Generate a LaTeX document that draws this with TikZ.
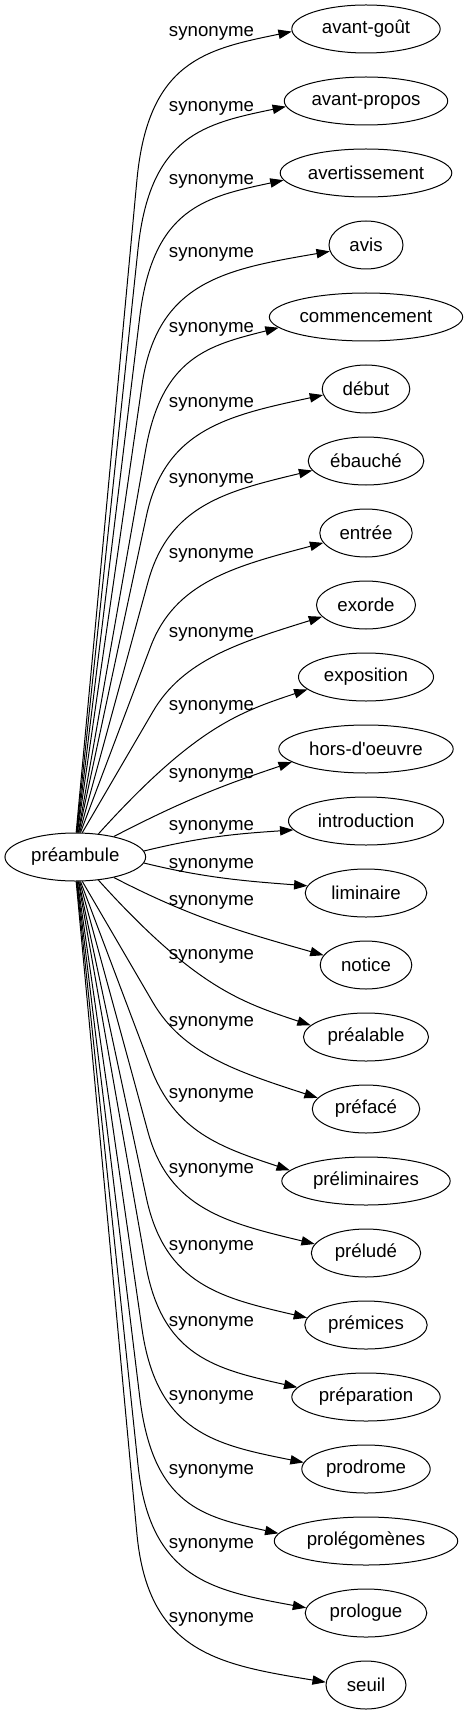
\documentclass[tikz,border=0pt]{standalone}
\usepackage{fontspec}
\setmainfont{Liberation Sans}
\usetikzlibrary{arrows.meta,calc,shapes.geometric}
\begin{document}
\begin{tikzpicture}[x=0.75pt,y=-0.75pt,
  nd/.style={draw, ellipse, line width=0.75pt, minimum height=36pt, inner sep=0pt, font=\fontsize{14}{16}\selectfont},
  lbl/.style={font=\fontsize{14}{16}\selectfont, anchor=base, inner sep=0pt},
  conn/.style={draw, line width=0.75pt, -{Triangle[length=10pt,width=7pt]}}]
\useasboundingbox (0,0) rectangle (468,1715);
% nodes
\node[nd, minimum width=105.5pt] (p) at (75.3,857) {préambule};
\node[nd, minimum width=111.3pt] (n1) at (366,29) {avant-goût};
\node[nd, minimum width=122.6pt] (n2) at (366,101) {avant-propos};
\node[nd, minimum width=128.7pt] (n3) at (366,173) {avertissement};
\node[nd, minimum width=55.5pt] (n4) at (366,245) {avis};
\node[nd, minimum width=145pt] (n5) at (366,317) {commencement};
\node[nd, minimum width=65.7pt] (n6) at (366,389) {début};
\node[nd, minimum width=86.7pt] (n7) at (366,461) {ébauché};
\node[nd, minimum width=69.3pt] (n8) at (366,533) {entrée};
\node[nd, minimum width=74.3pt] (n9) at (366,605) {exorde};
\node[nd, minimum width=101.3pt] (n10) at (366,677) {exposition};
\node[nd, minimum width=130.8pt] (n11) at (366,749) {hors-d\textquotesingle oeuvre};
\node[nd, minimum width=116.3pt] (n12) at (366,821) {introduction};
\node[nd, minimum width=91.2pt] (n13) at (366,893) {liminaire};
\node[nd, minimum width=68.7pt] (n14) at (366,965) {notice};
\node[nd, minimum width=93.8pt] (n15) at (366,1037) {préalable};
\node[nd, minimum width=80.6pt] (n16) at (366,1109) {préfacé};
\node[nd, minimum width=126.3pt] (n17) at (366,1181) {préliminaires};
\node[nd, minimum width=82pt] (n18) at (366,1253) {préludé};
\node[nd, minimum width=91.8pt] (n19) at (366,1325) {prémices};
\node[nd, minimum width=111.3pt] (n20) at (366,1397) {préparation};
\node[nd, minimum width=96.3pt] (n21) at (366,1469) {prodrome};
\node[nd, minimum width=137.6pt] (n22) at (366,1541) {prolégomènes};
\node[nd, minimum width=91.2pt] (n23) at (366,1613) {prologue};
\node[nd, minimum width=60pt] (n24) at (366,1685) {seuil};
% upper edges
\draw[conn] (p.88) -- ($(148,61)!90pt!(p.88)$) .. controls (148,61) and ($(n1.182)!0.6!(148,61)$) .. (n1.182);
\draw[conn] (p.87) -- ($(150,135)!86pt!(p.87)$) .. controls (150,135) and ($(n2.184)!0.6!(150,135)$) .. (n2.184);
\draw[conn] (p.86) -- ($(153,208)!82pt!(p.86)$) .. controls (153,208) and ($(n3.185)!0.6!(153,208)$) .. (n3.185);
\draw[conn] (p.85) -- ($(157,281)!79pt!(p.85)$) .. controls (157,281) and ($(n4.190)!0.6!(157,281)$) .. (n4.190);
\draw[conn] (p.83) -- ($(162,357)!71pt!(p.83)$) .. controls (162,357) and ($(n5.187)!0.6!(162,357)$) .. (n5.187);
\draw[conn] (p.82) -- ($(165,429)!67pt!(p.82)$) .. controls (165,429) and ($(n6.188)!0.6!(165,429)$) .. (n6.188);
\draw[conn] (p.80) -- ($(169,505)!60pt!(p.80)$) .. controls (169,505) and ($(n7.190)!0.6!(169,505)$) .. (n7.190);
\draw[conn] (p.78) -- ($(175,582)!52pt!(p.78)$) .. controls (175,582) and ($(n8.193)!0.6!(175,582)$) .. (n8.193);
\draw[conn] (p.74) -- ($(183,660)!45pt!(p.74)$) .. controls (183,660) and ($(n9.195)!0.6!(183,660)$) .. (n9.195);
\draw[conn] (p.45) .. controls (195,727) and ($(n10.192)!0.6!(195,727)$) .. (n10.192);
\draw[conn] (p.28) .. controls (192,796) and ($(n11.190)!0.6!(192,796)$) .. (n11.190);
\draw[conn] (p.5) .. controls (205,836) and ($(n12.187)!0.6!(205,836)$) .. (n12.187);
% lower edges
\draw[conn] (p.355) .. controls (205,878) and ($(n13.173)!0.6!(205,878)$) .. (n13.173);
\draw[conn] (p.332) .. controls (192,918) and ($(n14.167)!0.6!(192,918)$) .. (n14.167);
\draw[conn] (p.315) .. controls (195,987) and ($(n15.168)!0.6!(195,987)$) .. (n15.168);
\draw[conn] (p.286) -- ($(183,1054)!45pt!(p.286)$) .. controls (183,1054) and ($(n16.167)!0.6!(183,1054)$) .. (n16.167);
\draw[conn] (p.282) -- ($(175,1132)!52pt!(p.282)$) .. controls (175,1132) and ($(n17.172)!0.6!(175,1132)$) .. (n17.172);
\draw[conn] (p.280) -- ($(169,1209)!60pt!(p.280)$) .. controls (169,1209) and ($(n18.170)!0.6!(169,1209)$) .. (n18.170);
\draw[conn] (p.278) -- ($(165,1285)!67pt!(p.278)$) .. controls (165,1285) and ($(n19.173)!0.6!(165,1285)$) .. (n19.173);
\draw[conn] (p.277) -- ($(162,1357)!71pt!(p.277)$) .. controls (162,1357) and ($(n20.172)!0.6!(162,1357)$) .. (n20.172);
\draw[conn] (p.275) -- ($(157,1433)!79pt!(p.275)$) .. controls (157,1433) and ($(n21.174)!0.6!(157,1433)$) .. (n21.174);
\draw[conn] (p.274) -- ($(153,1506)!82pt!(p.274)$) .. controls (153,1506) and ($(n22.175)!0.6!(153,1506)$) .. (n22.175);
\draw[conn] (p.273) -- ($(150,1579)!86pt!(p.273)$) .. controls (150,1579) and ($(n23.175)!0.6!(150,1579)$) .. (n23.175);
\draw[conn] (p.272) -- ($(148,1653)!90pt!(p.272)$) .. controls (148,1653) and ($(n24.176)!0.6!(148,1653)$) .. (n24.176);
% labels
\node[lbl] (l1) at (211.5,37) {synonyme};
\node[lbl] (l2) at (211.5,112) {synonyme};
\node[lbl] (l3) at (211.5,185) {synonyme};
\node[lbl] (l4) at (211.5,258) {synonyme};
\node[lbl] (l5) at (211.5,333) {synonyme};
\node[lbl] (l6) at (211.5,407) {synonyme};
\node[lbl] (l7) at (211.5,483) {synonyme};
\node[lbl] (l8) at (211.5,558) {synonyme};
\node[lbl] (l9) at (211.5,637) {synonyme};
\node[lbl] (l10) at (211.5,710) {synonyme};
\node[lbl] (l11) at (211.5,778) {synonyme};
\node[lbl] (l12) at (211.5,830) {synonyme};
\node[lbl] (l13) at (211.5,868) {synonyme};
\node[lbl] (l14) at (211.5,905) {synonyme};
\node[lbl] (l15) at (211.5,959) {synonyme};
\node[lbl] (l16) at (211.5,1026) {synonyme};
\node[lbl] (l17) at (211.5,1098) {synonyme};
\node[lbl] (l18) at (211.5,1173) {synonyme};
\node[lbl] (l19) at (211.5,1250) {synonyme};
\node[lbl] (l20) at (211.5,1326) {synonyme};
\node[lbl] (l21) at (211.5,1400) {synonyme};
\node[lbl] (l22) at (211.5,1474) {synonyme};
\node[lbl] (l23) at (211.5,1548) {synonyme};
\node[lbl] (l24) at (211.5,1622) {synonyme};
\end{tikzpicture}
\end{document}
